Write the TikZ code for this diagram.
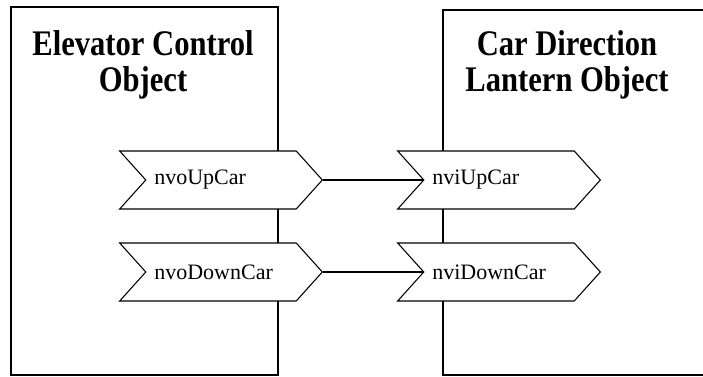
\documentclass[tikz,border=0pt]{standalone}
\usepackage{fontspec}
\setmainfont{Liberation Serif}
\newfontfamily\narrowserif{Liberation Serif}[FakeStretch=0.85]
\usetikzlibrary{shapes.symbols}
\begin{document}
\begin{tikzpicture}[x=0.75pt,y=-0.75pt]
  \tikzstyle{object}=[draw,line width=1pt]
  \tikzstyle{objtitle}=[font=\narrowserif\bfseries\fontsize{27}{26.5}\selectfont,align=center]
  \tikzstyle{netvar}=[draw,fill=white,line width=0.8pt,shape=signal,signal to=east,signal from=west,
                      signal pointer angle=96,minimum height=43.5pt,minimum width=152pt,
                      text width=100pt,align=left,font=\fontsize{16.5}{18}\selectfont]
  \def\rowup{180} % row of the up variables
  \def\rowdown{272} % row of the down variables
  \useasboundingbox (0,0) rectangle (703,377);
  % the two objects
  \draw[object] (11,7) rectangle (278,375);
  \draw[object] (443,10) rectangle (710,375);
  \node[objtitle] (ectl) at (143,65) {Elevator Control\\Object};
  \node[objtitle] (lant) at (567,65) {Car Direction\\Lantern Object};
  % network variables
  \node[netvar] (nvoup) at (221,\rowup) {nvoUpCar};
  \node[netvar] (nvodown) at (221,\rowdown) {nvoDownCar};
  \node[netvar] (nviup) at (499,\rowup) {nviUpCar};
  \node[netvar] (nvidown) at (499,\rowdown) {nviDownCar};
  % bindings
  \draw[line width=0.8pt] (nvoup.east) -- (nviup.west);
  \draw[line width=0.8pt] (nvodown.east) -- (nvidown.west);
\end{tikzpicture}
\end{document}
